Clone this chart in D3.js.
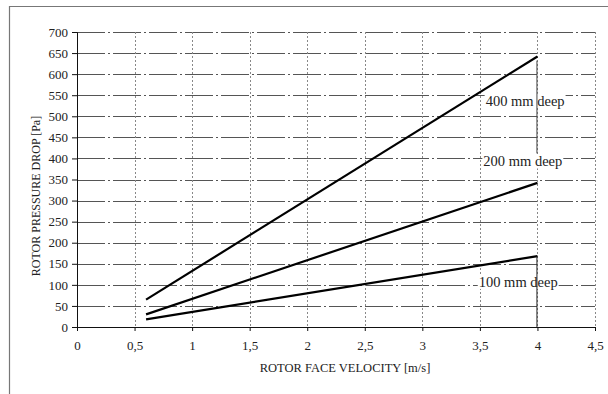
<!DOCTYPE html>
<html><head><meta charset="utf-8">
<script src="https://cdn.jsdelivr.net/npm/d3@7/dist/d3.min.js"></script>
<style>body{margin:0;background:#fff}svg{display:block}text{font-family:"Liberation Serif","Times New Roman",serif;fill:#222}</style>
</head><body><svg id="c" width="608" height="394"></svg>
<script>
const xTicks = [0,0.5,1,1.5,2,2.5,3,3.5,4,4.5];
const yTicks = [0,50,100,150,200,250,300,350,400,450,500,550,600,650,700];
const velocity = [0.6, 4];
const series400 = [65, 642];
const series200 = [30, 342];
const series100 = [18, 168];
const seriesNames = ["400 mm deep","200 mm deep","100 mm deep"];

const svg = d3.select("#c");
const x = d3.scaleLinear().domain([0,4.5]).range([77,595]);
const y = d3.scaleLinear().domain([0,700]).range([327,32]);
const serif = "'Liberation Serif','Times New Roman',serif";

// frame (top and left only)
svg.append("line").attr("x1",9).attr("x2",608).attr("y1",6.5).attr("y2",6.5).attr("stroke","#777").attr("stroke-width",1.2);
svg.append("line").attr("x1",9.5).attr("x2",9.5).attr("y1",6).attr("y2",394).attr("stroke","#777").attr("stroke-width",1.2);

// grid
svg.append("g").selectAll("line").data(yTicks.filter(d=>d>0)).join("line")
  .attr("x1",x(0)).attr("x2",x(4.5)).attr("y1",d=>Math.round(y(d))+0.5).attr("y2",d=>Math.round(y(d))+0.5)
  .attr("stroke","#555").attr("stroke-width",1).attr("stroke-dasharray","28,3,2,3");
svg.append("g").selectAll("line").data(xTicks.filter(d=>d>0)).join("line")
  .attr("x1",d=>Math.round(x(d))+0.5).attr("x2",d=>Math.round(x(d))+0.5).attr("y1",y(700)).attr("y2",y(0))
  .attr("stroke","#888").attr("stroke-width",1).attr("stroke-dasharray","2,2");

// axes
const yAxis = d3.axisLeft(y).tickValues(yTicks).tickSize(5).tickFormat(d3.format("d"));
const gy = svg.append("g").attr("transform",`translate(${x(0)},0)`).call(yAxis);
const xAxis = d3.axisBottom(x).tickValues(xTicks).tickSize(4).tickFormat(d=>String(d).replace(".",","));
const gx = svg.append("g").attr("transform",`translate(0,${y(0)})`).call(xAxis);
[gx,gy].forEach(g=>{
  g.attr("font-family",serif);
  g.selectAll("text").style("font-family",serif).style("font-size","13px").attr("fill","#222");
  g.select(".domain").attr("stroke","#111");
  g.selectAll(".tick line").attr("stroke","#111");
});
gx.selectAll(".tick text").attr("dy","1.2em");
gy.selectAll(".tick text").attr("dx","-1");

// axis titles
svg.append("text").attr("x",345).attr("y",372).attr("text-anchor","middle")
  .style("font-family",serif).style("font-size","12.5px").text("ROTOR FACE VELOCITY [m/s]");
svg.append("text").attr("transform",`translate(40,196) rotate(-90)`).attr("text-anchor","middle")
  .style("font-family",serif).style("font-size","12px").text("ROTOR PRESSURE DROP [Pa]");

// lines
const line = d3.line().x((d,i)=>x(velocity[i])).y(d=>y(d));
[series400,series200,series100].forEach(s=>{
  svg.append("path").attr("d",line(s)).attr("fill","none").attr("stroke","#000").attr("stroke-width",2.2);
});

// labels with white backing
const labelPos = [[3.55,525],[3.53,381],[3.49,95]];
seriesNames.forEach((n,i)=>{
  const t = svg.append("text").attr("x",x(labelPos[i][0])).attr("y",y(labelPos[i][1]))
    .style("font-family",serif).style("font-size","14.5px").text(n);
  const b = t.node().getBBox();
  svg.insert("rect", () => t.node()).attr("x",b.x-1).attr("y",b.y+1).attr("width",b.width+2).attr("height",b.height-2).attr("fill","#fff");
});

// leader lines
svg.append("line").attr("x1",x(4)-0.5).attr("x2",x(4)-0.5).attr("y1",y(632)).attr("y2",y(412)).attr("stroke","#444");
svg.append("line").attr("x1",x(4)-0.5).attr("x2",x(4)-0.5).attr("y1",y(168)).attr("y2",y(0)).attr("stroke","#222");
</script></body></html>
